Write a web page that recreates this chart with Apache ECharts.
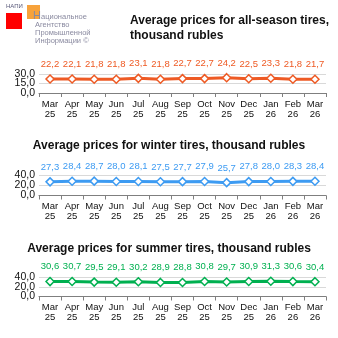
<!DOCTYPE html>
<html><head><meta charset="utf-8">
<script src="https://cdn.jsdelivr.net/npm/echarts@6/dist/echarts.min.js"></script>
<style>html,body{margin:0;padding:0;background:#fff}#c{width:338px;height:338px}</style>
</head><body><div id="c"></div>
<script>
const categories = ['Mar\n25','Apr\n25','May\n25','Jun\n25','Jul\n25','Aug\n25','Sep\n25','Oct\n25','Nov\n25','Dec\n25','Jan\n26','Feb\n26','Mar\n26'];
const allSeason = [22.2,22.1,21.8,21.8,23.1,21.8,22.7,22.7,24.2,22.5,23.3,21.8,21.7];
const winter = [27.3,28.4,28.7,28.0,28.1,27.5,27.7,27.9,25.7,27.8,28.0,28.3,28.4];
const summer = [30.6,30.7,29.5,29.1,30.2,28.9,28.8,30.8,29.7,30.9,31.3,30.6,30.4];
const titles = ['Average prices for all-season tires,\nthousand rubles','Average prices for winter tires, thousand rubles','Average prices for summer tires, thousand rubles'];
const yMax = [30,40,40];
const yInterval = [15,20,20];
const colors = ['#EE5A24','#3D9BF2','#00B050'];

const fmt = v => v.toFixed(1).replace('.',',');
const grids = [{top:74,height:19},{top:175.5,height:20},{top:277,height:19.5}];
const seriesData = [allSeason, winter, summer];
const chart = echarts.init(document.getElementById('c'));
const yAxes = [];
[0,1,2].forEach(i=>{
  const mid = yInterval[i];
  const base = {type:'value',gridIndex:i,min:0,max:yMax[i],interval:yInterval[i],position:'left',
    axisLine:{show:false},axisTick:{show:false}};
  yAxes.push(Object.assign({}, base, {
    splitLine:{lineStyle:{color:'#d9d9d9',width:1}},
    axisLabel:{formatter:v=>v===mid?'':fmt(v),margin:4,showMinLabel:true,showMaxLabel:true,fontFamily:'Liberation Sans',fontSize:10.5,color:'#111'}}));
  yAxes.push(Object.assign({}, base, {
    splitLine:{show:false},
    axisLabel:{formatter:v=>v===mid?fmt(v):'',margin:4,fontFamily:'Liberation Sans',fontSize:10.5,color:'#111'}}));
});
const option = {
  animation:false,
  title:[
    {text:titles[0],left:125,top:8,textStyle:{fontFamily:'Liberation Sans',fontSize:12,fontWeight:'bold',color:'#111',lineHeight:15}},
    {text:titles[1],left:'center',top:135,textStyle:{fontFamily:'Liberation Sans',fontSize:12,fontWeight:'bold',color:'#111'}},
    {text:titles[2],left:'center',top:238,textStyle:{fontFamily:'Liberation Sans',fontSize:12,fontWeight:'bold',color:'#111'}}
  ],
  grid: grids.map(g=>({left:39,right:12,top:g.top,height:g.height})),
  xAxis: [0,1,2].map(i=>({type:'category',gridIndex:i,data:categories,boundaryGap:true,
    axisLine:{lineStyle:{color:'#7f7f7f',width:1}},
    axisTick:{show:true,length:4,lineStyle:{color:'#7f7f7f'}},
    axisLabel:{interval:0,margin:6,fontFamily:'Liberation Sans',fontSize:9.5,lineHeight:10,color:'#111'}})),
  yAxis: yAxes,
  series: [0,1,2].map(i=>({type:'line',xAxisIndex:i,yAxisIndex:2*i,data:seriesData[i],
    lineStyle:{color:colors[i],width:3},
    symbol:'diamond',symbolSize:8,
    itemStyle:{color:'#fff',borderColor:colors[i],borderWidth:1.5},
    label:{show:true,position:'top',distance:5,formatter:p=>fmt(p.value),color:colors[i],fontFamily:'Liberation Sans',fontSize:9.5}})),
  graphic:[
    {type:'rect',shape:{x:6,y:13,width:16,height:16},style:{fill:'#ff0000'}},
    {type:'rect',shape:{x:27,y:5,width:13,height:14},style:{fill:'#f7a23b'}},
    {type:'text',style:{x:6,y:3,text:'НАПИ',fontSize:6,fontFamily:'Liberation Sans',fill:'#5a5a7a'}},
    {type:'text',style:{x:33,y:10,text:'Н',fontSize:11,fontFamily:'Liberation Sans',fill:'#8a8aa0'}},
    {type:'text',style:{x:41,y:13,text:'ациональное',fontSize:7.5,fontFamily:'Liberation Sans',fill:'#8a8aa0'}},
    {type:'text',style:{x:35,y:21,text:'Агентство',fontSize:7.5,fontFamily:'Liberation Sans',fill:'#8a8aa0'}},
    {type:'text',style:{x:35,y:29,text:'Промышленной',fontSize:7.5,fontFamily:'Liberation Sans',fill:'#8a8aa0'}},
    {type:'text',style:{x:35,y:37,text:'Информации ©',fontSize:7.5,fontFamily:'Liberation Sans',fill:'#8a8aa0'}}
  ]
};
chart.setOption(option);
</script></body></html>
